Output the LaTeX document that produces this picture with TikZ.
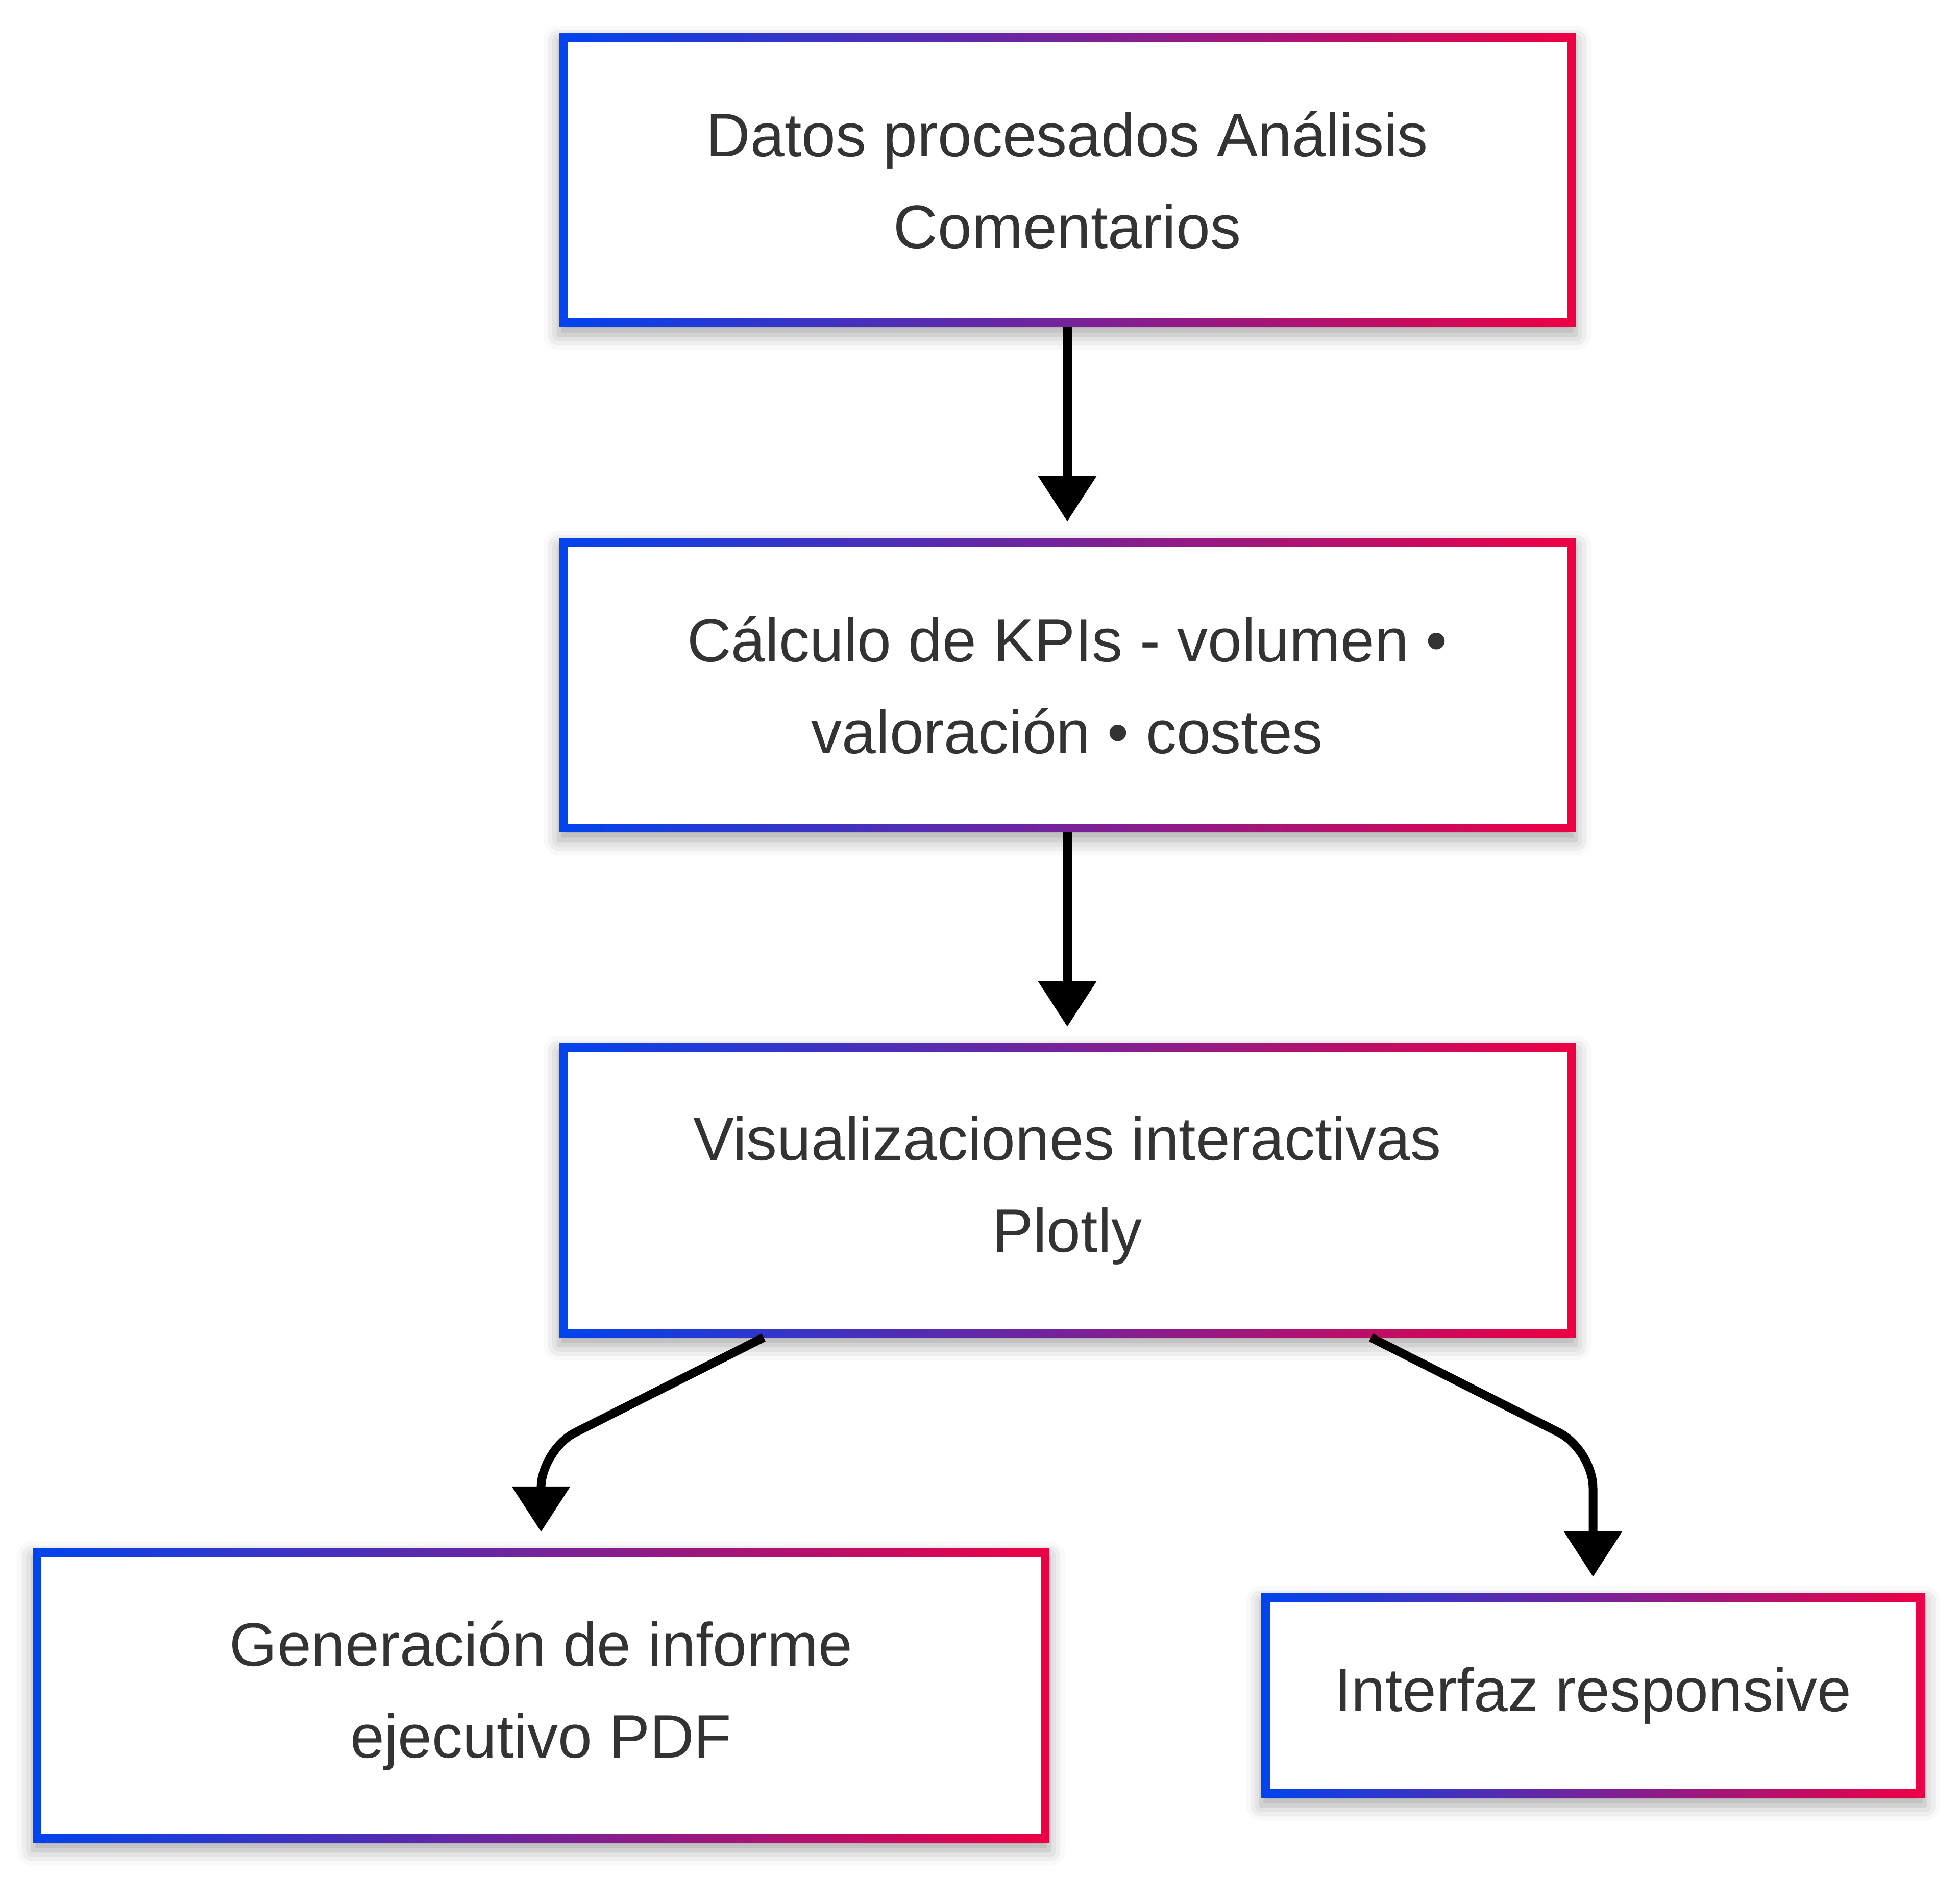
\documentclass[tikz,border=0pt]{standalone}
\usepackage{fontspec}
\setmainfont{Liberation Sans}
\usepackage{tikz}
\usetikzlibrary{positioning, calc, arrows.meta, shadows.blur}
\definecolor{gblue}{HTML}{0044EE}
\definecolor{gred}{HTML}{EE0044}
\definecolor{ink}{HTML}{333333}

\begin{document}
\begin{tikzpicture}[node distance={41.4pt},
		box/.style = {rectangle, minimum width=199.2pt, minimum height=57.6pt, inner sep=0pt, outer sep=0pt,
			left color=gblue, right color=gred,
			blur shadow={shadow xshift=0pt, shadow yshift=-1.5pt, shadow blur radius=3pt, shadow opacity=35},
			path picture={\fill[white] ([shift={(1.7pt,1.7pt)}]path picture bounding box.south west) rectangle ([shift={(-1.7pt,-1.7pt)}]path picture bounding box.north east);},
			text=ink, align=center, font=\fontsize{12}{18}\selectfont},
		arr/.style = {line width=1.7pt, -{Triangle[length=8.9pt, width=11pt]}, shorten >=3.3pt}]
		\useasboundingbox (0,0) rectangle (384pt,-368.4pt);
		\node[box] (1) at (209.1pt,-35.3pt) {Datos procesados Análisis\\Comentarios};
		\node[box] (2) [below=of 1] {Cálculo de KPIs - volumen •\\valoración • costes};
		\node[box] (3) [below=of 2] {Visualizaciones interactivas\\Plotly};
		\node[box] (4) [below=of 3, xshift=-103.1pt] {Generación de informe\\ejecutivo PDF};
		\node[box] (5) [right=41.5pt of 4, minimum width=130pt, minimum height=40pt] {Interfaz responsive};
		\coordinate (l) at ($(3.south -| 4.north)+(0,-22pt)$);
		\coordinate (r) at ($(3.south -| 5.north)+(0,-22pt)$);
		\draw[arr] (1) -- (2);
		\draw[arr] (2) -- (3);
		\draw[arr, rounded corners=7.5pt] ([xshift=-59.5pt]3.south) -- (l) -- (4.north);
		\draw[arr, rounded corners=7.5pt] ([xshift=59.5pt]3.south) -- (r) -- (5.north);
	\end{tikzpicture}
\end{document}
